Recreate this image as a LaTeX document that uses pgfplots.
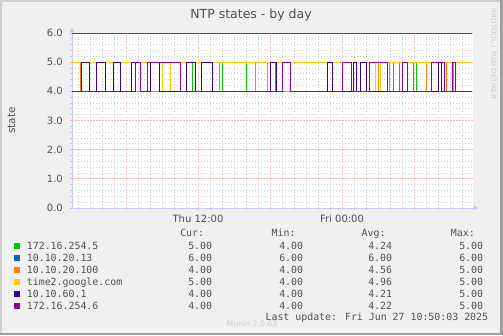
\documentclass[border=0pt]{standalone}
\usepackage{fontspec}
\setmainfont{DejaVu Sans}
\newfontfamily\monofont{DejaVu Sans Mono}
\usepackage{pgfplots}
\pgfplotsset{compat=1.18}
\usetikzlibrary{arrows.meta}
\definecolor{bgc}{HTML}{F0F0F0}
\definecolor{shadea}{HTML}{CFCFCF}
\definecolor{shadeb}{HTML}{9E9E9E}
\definecolor{txt}{HTML}{505050}
\definecolor{axc}{HTML}{C8C8FF}
\definecolor{mgrid}{HTML}{F4B4B4}
\definecolor{ngrid}{HTML}{CCCCCC}
\definecolor{cgreen}{HTML}{00CC00}
\definecolor{cblue}{HTML}{0066B3}
\definecolor{corange}{HTML}{FF8000}
\definecolor{cyellow}{HTML}{FFCC00}
\definecolor{cindigo}{HTML}{330099}
\definecolor{cpurple}{HTML}{990099}
\begin{document}
\begin{tikzpicture}[x=1bp,y=1bp]
\fill[bgc] (0,0) rectangle (503,335);
\fill[shadea] (0,0) rectangle (2,335);
\fill[shadea] (0,333) rectangle (503,335);
\fill[shadeb] (500,0) rectangle (503,335);
\fill[shadeb] (0,0) rectangle (503,2.5);
\useasboundingbox (0,0) rectangle (503,335);
\coordinate (AX) at (72bp,127bp);
\begin{axis}[
  at={(AX)}, anchor=south west, scale only axis,
  width=401bp, height=175bp,
  xmin=1.5, xmax=34.917, ymin=0, ymax=6,
  axis background/.style={fill=white},
  axis x line=bottom, axis y line=left,
  axis line style={draw=axc, line width=1bp, shorten >=-5bp, -{Stealth[length=5bp,width=5bp,fill=axc]}},
  xtick={6,12,18,24,30}, xticklabels={,Thu 12:00,,Fri 00:00,},
  minor xtick={2,3,4,5,7,8,9,10,11,13,14,15,16,17,19,20,21,22,23,25,26,27,28,29,31,32,33,34},
  ytick={0,1,2,3,4,5,6}, yticklabels={0.0,1.0,2.0,3.0,4.0,5.0,6.0},
  minor ytick={0.2,0.4,0.6,0.8,1.2,1.4,1.6,1.8,2.2,2.4,2.6,2.8,3.2,3.4,3.6,3.8,4.2,4.4,4.6,4.8,5.2,5.4,5.6,5.8},
  grid=both,
  major grid style={mgrid, line width=0.7bp, dash pattern=on 1.5bp off 1.5bp},
  minor grid style={ngrid, line width=0.7bp, dash pattern=on 1bp off 2bp},
  tick align=outside, major tick length=2bp, minor tick length=2bp,
  major tick style={mgrid, line width=0.8bp}, minor tick style={ngrid, line width=0.8bp},
  ticklabel style={font=\fontsize{10bp}{12bp}\selectfont, text=txt, inner sep=0pt},
  xticklabel style={anchor=base, yshift=-12.7bp},
  yticklabel style={anchor=east, xshift=-7bp},
  /pgf/number format/assume math mode=true,
  clip=false,
  every axis plot/.append style={line width=1bp, const plot, mark=none},
]
% 172.16.254.5
\addplot[cgreen] coordinates {(1.5,4) (11.5,5) (12.33,4) (14,5) (16.08,4) (17.83,5) (18.42,4) (28.33,5) (28.75,4) (29.92,5) (30.17,4) (31.08,5) (31.42,4) (32.67,5) (34.83,5)};
% 10.10.20.13
\addplot[cblue] coordinates {(1.5,6) (34.83,6)};
% 10.10.20.100
\addplot[corange] coordinates {(1.5,5) (2.17,4) (2.92,5) (3.5,4) (5.5,5) (6.42,4) (8.83,5) (9.67,4) (10.5,5) (11.08,4) (13.17,5) (13.75,4) (16.75,5) (17.83,4) (19.67,5) (22.83,4) (23.17,5) (24,4) (25.17,5) (25.58,4) (27.08,5) (27.92,4) (29,5) (31.08,4) (32.67,5) (33.25,4) (34.83,4)};
% time2.google.com
\addplot[cyellow] coordinates {(1.5,5) (9.08,4) (9.67,5) (26.75,4) (27.17,5) (34.83,5)};
% 10.10.60.1
\addplot[cindigo] coordinates {(1.5,4) (2.33,5) (2.92,4) (3.5,5) (4.33,4) (4.92,5) (5.5,4) (6.42,5) (7.17,4) (8,5) (8.83,4) (11.08,5) (11.75,4) (12.33,5) (13.17,4) (18,5) (18.58,4) (19.08,5) (19.67,4) (22.83,5) (23.17,4) (24.92,5) (25.17,4) (25.58,5) (26.08,4) (32,5) (32.33,4) (34.83,4)};
% 172.16.254.6
\addplot[cpurple] coordinates {(1.5,4) (6.75,5) (7.17,4) (7.83,5) (10.5,4) (19.08,5) (19.67,4) (24,5) (24.83,4) (26.33,5) (27.83,4) (29,5) (29.42,4) (31.42,5) (32.5,4) (33.17,5) (33.42,4) (34.83,4)};
\end{axis}
% title and axis label
\node[anchor=base, text=txt, font=\fontsize{12.5bp}{15bp}\selectfont] at (251,316.7) {NTP states - by day};
\node[anchor=base, rotate=90, text=txt, font=\fontsize{10.5bp}{12bp}\selectfont] at (15,214.5) {state};
\node[rotate=-90, text=black!22, font=\fontsize{7bp}{8bp}\selectfont] at (493.7,281) {RRDTOOL / TOBI OETIKER};
% legend
\begin{scope}[every node/.style={text=txt, inner sep=0pt, font=\monofont\fontsize{9.9bp}{12bp}\selectfont}]
\node[anchor=base east] at (204.3,98.3) {Cur:};
\node[anchor=base east] at (295.7,98.3) {Min:};
\node[anchor=base east] at (385.7,98.3) {Avg:};
\node[anchor=base east] at (475,98.3) {Max:};
\foreach \b/\c/\n/\cu/\mn/\av/\mx in {
  85.7/cgreen/172.16.254.5/5.00/4.00/4.24/5.00,
  73.7/cblue/10.10.20.13/6.00/6.00/6.00/6.00,
  61.7/corange/10.10.20.100/4.00/4.00/4.56/5.00,
  49.7/cyellow/time2.google.com/5.00/4.00/4.96/5.00,
  37.7/cindigo/10.10.60.1/4.00/4.00/4.21/5.00,
  25.7/cpurple/172.16.254.6/4.00/4.00/4.22/5.00}{
  \fill[\c] (14,\b+0.5) rectangle (20,\b+6);
  \node[anchor=base west] at (26.7,\b) {\n};
  \node[anchor=base east] at (212.3,\b) {\cu};
  \node[anchor=base east] at (303.3,\b) {\mn};
  \node[anchor=base east] at (392.3,\b) {\av};
  \node[anchor=base east] at (483.3,\b) {\mx};
}
\node[anchor=base east] at (488.3,14.3) {Last update: Fri Jun 27 10:50:03 2025};
\end{scope}
\node[anchor=base, text=black!20, inner sep=0pt, font=\fontsize{7.75bp}{9bp}\selectfont] at (252,8.3) {Munin 2.0.63};
\end{tikzpicture}
\end{document}
